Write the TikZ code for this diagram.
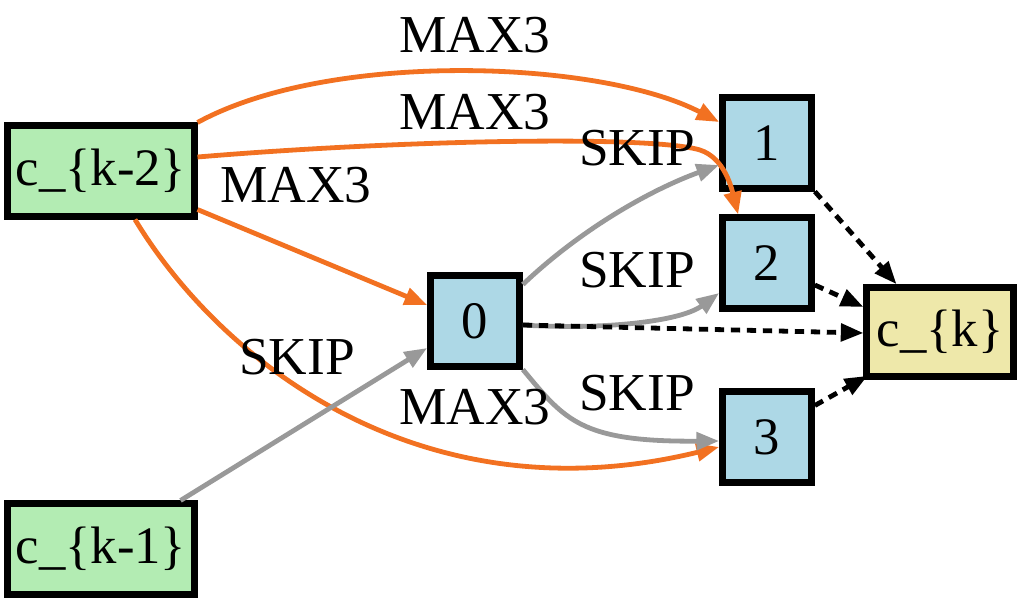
\documentclass[tikz,border=0pt]{standalone}
\usepackage{fontspec}
\setmainfont{Liberation Serif}
\usetikzlibrary{arrows.meta,calc}
\definecolor{edgeorange}{RGB}{242,113,33}
\definecolor{edgegray}{RGB}{153,153,153}
\definecolor{boxgreen}{RGB}{179,236,179}
\definecolor{boxblue}{RGB}{173,216,230}
\definecolor{boxkhaki}{RGB}{238,232,170}
\tikzset{
  base/.style={draw=black,line width=4.8pt,inner sep=0pt,font=\fontsize{39.5}{44}\selectfont},
  inbox/.style={base,fill=boxgreen,minimum width=140pt,minimum height=68pt},
  midbox/.style={base,fill=boxblue,minimum width=67pt,minimum height=68pt},
  outbox/.style={base,fill=boxkhaki,minimum width=110pt,minimum height=67pt},
  lbl/.style={font=\fontsize{40}{44}\selectfont,inner sep=0pt},
  tip/.style={-{Triangle[length=17pt,width=13pt]}},
  maxedge/.style={draw=edgeorange,line width=3.6pt,tip},
  skipedge/.style={draw=edgegray,line width=3.6pt,tip},
  outedge/.style={draw=black,line width=3.6pt,dash pattern=on 7pt off 5pt,tip},
}
\begin{document}
\begin{tikzpicture}[x=0.75pt,y=-0.75pt]
\useasboundingbox (0,0) rectangle (1021,604);
\node[inbox] (k2) at (101,171) {c\_\{k-2\}};
\node[inbox] (k1) at (101,549) {c\_\{k-1\}};
\node[midbox] (n0) at (475,321) {0};
\node[midbox] (n1) at (767,143) {1};
\node[midbox] (n2) at (767,263) {2};
\node[midbox] (n3) at (767,437) {3};
\node[outbox] (ck) at (940,332) {c\_\{k\}};

% orange MAX3 edges
\draw[maxedge] (k2.north east) .. controls (330,50) and (600,60) .. ($(n1.west)+(0,-21)$);
\draw[maxedge] ($(k2.east)+(0,-14)$) .. controls (400,140) and (650,135) .. (700,150)
  .. controls (725,158) and (732,190) .. ($(n2.north west)+(19,0)$);
\draw[maxedge] ($(k2.south east)+(0,-10)$) -- ($(n0.west)+(0,-16)$);
\draw[maxedge] ($(k2.south)+(34,0)$) .. controls (220,360) and (420,520) .. ($(n3.west)+(0,10)$);

% gray SKIP edges
\draw[skipedge] ($(k1.north east)+(-17,0)$) -- ($(n0.west)+(0,27)$);
\draw[skipedge] ($(n0.north east)+(0,12)$) .. controls (580,230) and (650,190) .. ($(n1.west)+(0,22)$);
\draw[skipedge] ($(n0.east)+(0,4)$) .. controls (600,330) and (680,322) .. ($(n2.west)+(0,30)$);
\draw[skipedge] (n0.south east) .. controls (565,420) and (580,442) .. ($(n3.west)+(0,4)$);

% dotted edges
\draw[outedge] ($(n0.east)+(0,4)$) -- ($(ck.west)+(0,1)$);
\draw[outedge] (n1.south east) -- ($(ck.north west)+(33,0)$);
\draw[outedge] ($(n2.east)+(0,22)$) -- ($(ck.west)+(0,-25)$);
\draw[outedge] ($(n3.north east)+(0,17)$) -- ($(ck.south west)+(4,-4)$);

% labels
\node[lbl] (l1) at (475,35) {MAX3};
\node[lbl] (l2) at (475,112) {MAX3};
\node[lbl] (l3) at (296,185) {MAX3};
\node[lbl] (l4) at (475,407) {MAX3};
\node[lbl] (s1) at (637,148) {SKIP};
\node[lbl] (s2) at (637,270) {SKIP};
\node[lbl] (s3) at (637,393) {SKIP};
\node[lbl] (s4) at (297,357) {SKIP};
\end{tikzpicture}
\end{document}
